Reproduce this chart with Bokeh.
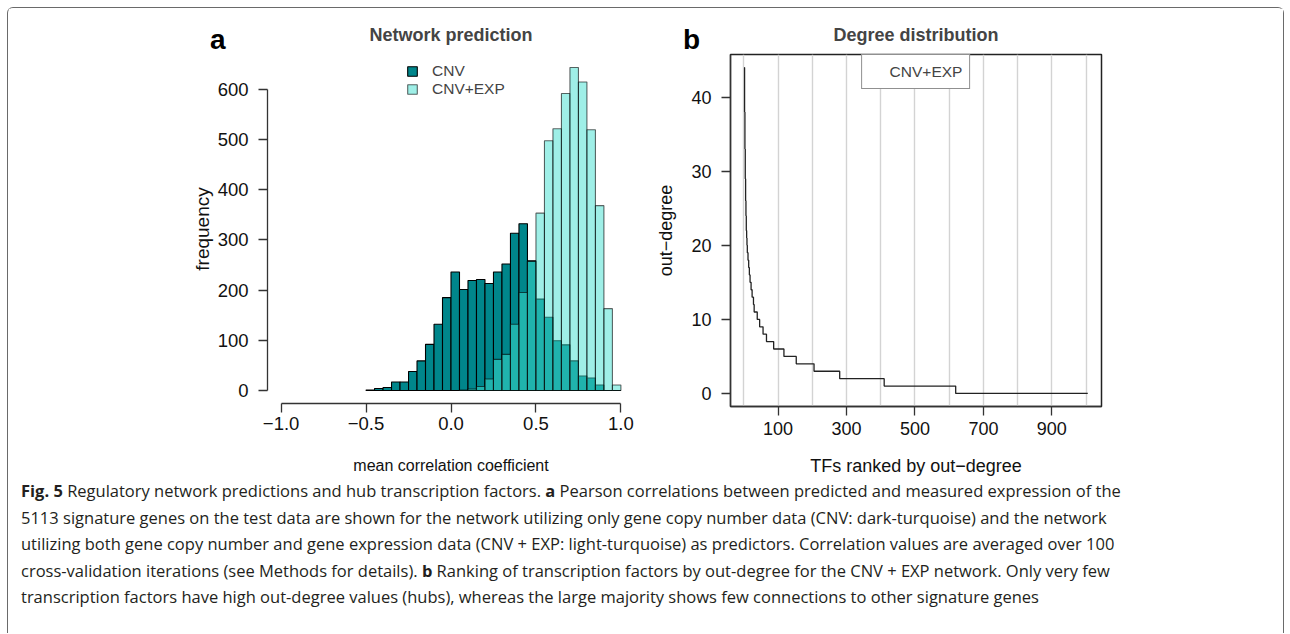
from bokeh.plotting import figure
from bokeh.models import Range1d, FixedTicker, Legend, LegendItem, Div
from bokeh.layouts import row, column
from bokeh.embed import file_html
from bokeh.resources import INLINE

# ---------------- data ----------------
bin_left = [-0.50, -0.45, -0.40, -0.35, -0.30, -0.25, -0.20, -0.15, -0.10, -0.05,
            0.00, 0.05, 0.10, 0.15, 0.20, 0.25, 0.30, 0.35, 0.40, 0.45,
            0.50, 0.55, 0.60, 0.65, 0.70, 0.75, 0.80, 0.85, 0.90, 0.95]
bin_right = [-0.45, -0.40, -0.35, -0.30, -0.25, -0.20, -0.15, -0.10, -0.05, 0.00,
             0.05, 0.10, 0.15, 0.20, 0.25, 0.30, 0.35, 0.40, 0.45, 0.50,
             0.55, 0.60, 0.65, 0.70, 0.75, 0.80, 0.85, 0.90, 0.95, 1.00]
cnv_counts = [1, 4, 6, 17, 17, 38, 59, 92, 132, 185,
              236, 201, 219, 221, 213, 236, 252, 313, 332, 258,
              182, 146, 99, 91, 59, 29, 25, 11, 0, 0]
cnvexp_counts = [0, 0, 0, 0, 0, 0, 0, 0, 0, 0,
                 0, 1, 3, 8, 23, 62, 72, 132, 195, 257,
                 353, 497, 521, 591, 643, 614, 519, 368, 163, 11]

freq_ticks = [0, 100, 200, 300, 400, 500, 600]
corr_ticks = [-1.0, -0.5, 0.0, 0.5, 1.0]
corr_labels = {-1.0: "\u22121.0", -0.5: "\u22120.5", 0.0: "0.0", 0.5: "0.5", 1.0: "1.0"}

# out-degree of TFs ranked (top ranks listed, then runs of equal degree)
top_degrees = [44, 38, 33, 29, 26, 24, 22, 21, 20, 19, 19, 18, 18, 17, 17,
               16, 16, 15, 15, 15, 14, 14, 14, 13, 13, 13, 13, 12, 12]
run_degrees = [11, 10, 9, 8, 7, 6, 5, 4, 3, 2, 1, 0]
run_lengths = [9, 7, 10, 10, 21, 30, 36, 52, 75, 130, 209, 387]
rank_ticks = [100, 300, 500, 700, 900]
rank_grid = [0, 100, 200, 300, 400, 500, 600, 700, 800, 900, 1000]
deg_ticks = [0, 10, 20, 30, 40]

out_degree = list(top_degrees)
for d, n in zip(run_degrees, run_lengths):
    out_degree += [d] * n
ranks = list(range(1, len(out_degree) + 1))

FONT = "Liberation Sans"
DARK = "#00868B"
LIGHT = "#40E0D0"
AX = "#333333"


def style_axis(ax, size):
    ax.axis_line_color = AX
    ax.axis_line_width = 1.3
    ax.major_tick_line_color = AX
    ax.major_tick_line_width = 1.3
    ax.major_tick_out = 9
    ax.major_tick_in = 0
    ax.minor_tick_line_color = None
    ax.major_label_text_font = FONT
    ax.major_label_text_font_size = size
    ax.major_label_text_color = "#111111"
    ax.axis_label_text_font = FONT
    ax.axis_label_text_font_style = "normal"
    ax.axis_label_text_color = "#111111"


# ---------------- panel a ----------------
pa = figure(frame_width=367, frame_height=349,
            min_border_left=259, min_border_right=10, min_border_top=46, min_border_bottom=75,
            x_range=Range1d(-1.08, 1.08), y_range=Range1d(-25.72, 668.72),
            output_backend="svg", toolbar_location=None,
            title="Network prediction")
pa.title.align = "center"
pa.title.text_font = FONT
pa.title.text_font_size = "18px"
pa.title.text_font_style = "bold"
pa.title.standoff = 19
pa.outline_line_color = None
pa.grid.visible = False
pa.background_fill_color = "white"
pa.border_fill_color = "white"

r_cnv = pa.quad(left=bin_left, right=bin_right, bottom=0, top=cnv_counts,
                fill_color=DARK, line_color="black", line_width=1.1)
r_exp = pa.quad(left=bin_left, right=bin_right, bottom=0, top=cnvexp_counts,
                fill_color=LIGHT, fill_alpha=0.5, line_color="black", line_alpha=0.6, line_width=1.1)

# legend proxies (square markers, not plotted: NaN position)
nan = float("nan")
leg_cnv = pa.scatter(x=[nan], y=[nan], marker="square", size=9,
                     fill_color=DARK, line_color="black", line_width=1.1)
leg_exp = pa.scatter(x=[nan], y=[nan], marker="square", size=9,
                     fill_color=LIGHT, fill_alpha=0.5, line_color="black", line_alpha=0.6, line_width=1.1)
for item, loc in ((LegendItem(label="CNV", renderers=[leg_cnv]), (133, 320)),
                  (LegendItem(label="CNV+EXP", renderers=[leg_exp]), (133, 302))):
    lg = Legend(items=[item], location=loc, margin=0, padding=0, spacing=0,
                glyph_width=24, glyph_height=24, label_height=24, label_standoff=8,
                label_text_font=FONT, label_text_font_size="15.5px",
                border_line_color=None, background_fill_alpha=0)
    pa.add_layout(lg, "center")

pa.yaxis.ticker = FixedTicker(ticks=freq_ticks)
pa.yaxis.bounds = (0, 600)
style_axis(pa.yaxis[0], "18.5px")
pa.yaxis.major_label_orientation = "horizontal"
pa.yaxis.major_label_standoff = 10
pa.yaxis.axis_label = "frequency"
pa.yaxis.axis_label_text_font_size = "19px"
pa.yaxis.axis_label_standoff = 2

pa.xaxis.ticker = FixedTicker(ticks=corr_ticks)
pa.xaxis.major_label_overrides = corr_labels
pa.xaxis.bounds = (-1, 1)
style_axis(pa.xaxis[0], "18.5px")
pa.xaxis.major_label_standoff = 4
pa.xaxis.axis_label = "mean correlation coefficient"
pa.xaxis.axis_label_text_font_size = "16px"
pa.xaxis.axis_label_standoff = 24

# ---------------- panel b ----------------
pb = figure(frame_width=371, frame_height=352,
            min_border_left=86, min_border_right=182, min_border_top=42, min_border_bottom=76,
            x_range=Range1d(-39.16, 1045.16), y_range=Range1d(-1.76, 45.76),
            output_backend="svg", toolbar_location=None,
            title="Degree distribution")
pb.title.align = "center"
pb.title.text_font = FONT
pb.title.text_font_size = "18px"
pb.title.text_font_style = "bold"
pb.title.standoff = 20
pb.outline_line_color = "#222222"
pb.outline_line_width = 1.5
pb.background_fill_color = "white"
pb.border_fill_color = "white"
pb.ygrid.visible = False
pb.xgrid.ticker = FixedTicker(ticks=rank_grid)
pb.xgrid.grid_line_color = "#d3d3d3"
pb.xgrid.grid_line_width = 1.4

pb.step(x=ranks, y=out_degree, mode="after", line_color="#222222", line_width=1.3)

leg_dummy = pb.line(x=[nan], y=[nan], line_alpha=0)
legb = Legend(items=[LegendItem(label="CNV+EXP", renderers=[leg_dummy])],
              location="top_center", margin=0, padding=7, spacing=0,
              glyph_width=16, glyph_height=19, label_height=19, label_standoff=5,
              label_text_font=FONT, label_text_font_size="15.5px",
              border_line_color="#222222", border_line_width=1.3,
              background_fill_color="white", background_fill_alpha=1)
pb.add_layout(legb, "center")

pb.yaxis.ticker = FixedTicker(ticks=deg_ticks)
style_axis(pb.yaxis[0], "18px")
pb.yaxis.major_label_orientation = "horizontal"
pb.yaxis.major_label_standoff = 10
pb.yaxis.axis_label = "out\u2212degree"
pb.yaxis.axis_label_text_font_size = "18px"
pb.yaxis.axis_label_standoff = 12

pb.xaxis.ticker = FixedTicker(ticks=rank_ticks)
style_axis(pb.xaxis[0], "18px")
pb.xaxis.major_label_standoff = 6
pb.xaxis.axis_label = "TFs ranked by out\u2212degree"
pb.xaxis.axis_label_text_font_size = "18px"
pb.xaxis.axis_label_standoff = 18

# ---------------- panel letters (HTML overlay) ----------------
letters_html = ("<div style=\"position:relative; width:1275px; height:60px; font-family:'Liberation Sans'; "
                "font-weight:bold; font-size:28px; line-height:28px; color:black;\">"
                "<span style=\"position:absolute; left:202px; top:18px;\">a</span>"
                "<span style=\"position:absolute; left:675px; top:18px;\">b</span></div>")
letters = Div(text=letters_html, width=1275, height=60, margin=0,
              styles={"position": "absolute", "left": "0px", "top": "0px", "z-index": "5",
                      "pointer-events": "none"})

# ---------------- caption ----------------
caption_lines = [
    "<b>Fig. 5</b> Regulatory network predictions and hub transcription factors. <b>a</b> Pearson correlations between predicted and measured expression of the",
    "5113 signature genes on the test data are shown for the network utilizing only gene copy number data (CNV: dark-turquoise) and the network",
    "utilizing both gene copy number and gene expression data (CNV + EXP: light-turquoise) as predictors. Correlation values are averaged over 100",
    "cross-validation iterations (see Methods for details). <b>b</b> Ranking of transcription factors by out-degree for the CNV + EXP network. Only very few",
    "transcription factors have high out-degree values (hubs), whereas the large majority shows few connections to other signature genes",
]
cap_html = ("<div style=\"font-family:'Open Sans'; font-size:16.5px; line-height:26.5px; color:#231f20; "
            "white-space:nowrap; padding-left:13px; padding-top:0px;\">" + "<br>".join(caption_lines) + "</div>")
cap = Div(text=cap_html, width=1275, height=155, margin=0)

layout = column(row(pa, pb), cap, letters, margin=(7, 0, 0, 7),
                styles={"position": "relative",
                        "border-top": "1.5px solid #6a6a6a", "border-left": "1.5px solid #6a6a6a",
                        "border-right": "1.5px solid #6a6a6a", "border-top-left-radius": "6px",
                        "border-top-right-radius": "6px", "background": "white"})

open("out.html", "w").write(file_html(layout, INLINE))
